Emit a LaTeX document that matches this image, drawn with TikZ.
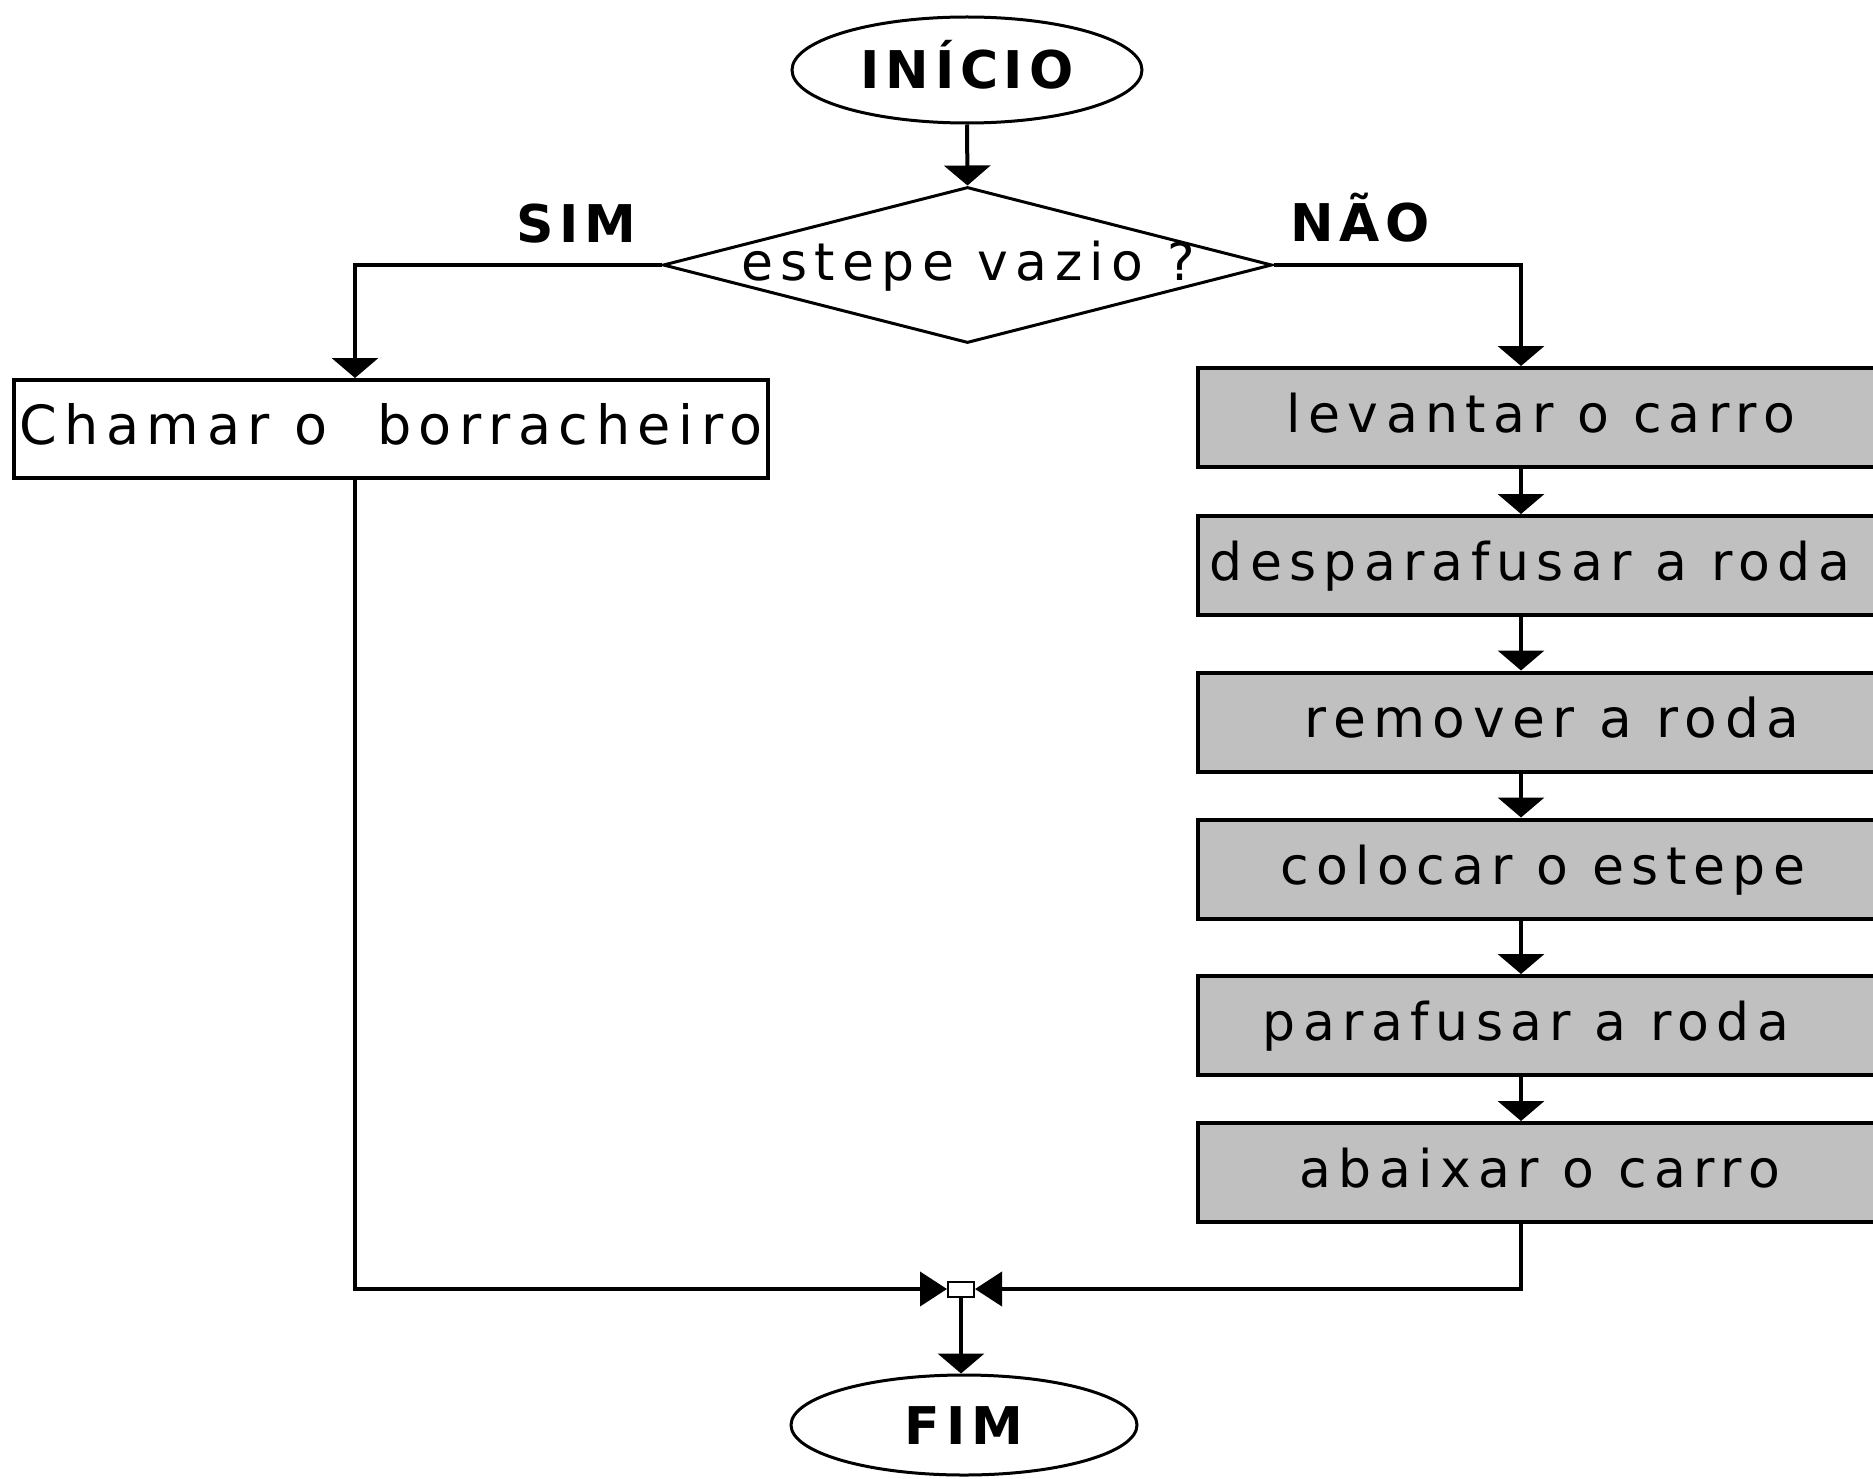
\documentclass[tikz,border=0pt]{standalone}
\usepackage{fontspec}
\setmainfont{DejaVu Sans}
\newfontfamily\boxfont[LetterSpace=14]{DejaVu Sans}
\newfontfamily\lblfont[LetterSpace=11]{DejaVu Sans}
\usetikzlibrary{shapes.geometric,arrows.meta}
\definecolor{boxgray}{HTML}{C0C0C0}
\begin{document}
\begin{tikzpicture}[x=1pt,y=-1pt,
  conn/.style={line width=4pt,-{Triangle[length=20pt,width=46pt]}},
  connj/.style={line width=4pt,-{Triangle[length=27pt,width=34pt]}},
  txt/.style={font=\fontsize{52}{60}\boxfont,text height=40pt,text depth=10pt,inner sep=0pt},
  proc/.style={draw,line width=4pt,fill=boxgray,minimum width=690pt,minimum height=99pt,inner sep=0pt},
  whitebox/.style={txt,draw,line width=4pt,fill=white,minimum width=754pt,minimum height=98pt,inner sep=0pt},
  term/.style={ellipse,draw,line width=3pt,inner sep=0pt,font=\fontsize{52}{60}\lblfont\bfseries,text height=38pt,text depth=0pt},
  lbl/.style={font=\fontsize{52}{60}\lblfont\bfseries,inner sep=0pt,text height=38pt,text depth=0pt},
]
\clip (0,0) rectangle (1873,1479);
\fill[white] (0,0) rectangle (1873,1479);

\node[term,minimum width=350pt,minimum height=106pt] (ini) at (967,70) {INÍCIO};
\node[diamond,draw,line width=3pt,minimum width=609pt,minimum height=156pt,inner sep=0pt] (d) at (967.5,265) {};
\node[txt] (dt) at (968,265) {estepe vazio ?};
\node[lbl] (sim) at (576,224) {SIM};
\node[lbl] (nao) at (1360,223) {NÃO};

\node[whitebox,font=\fontsize{54}{60}\boxfont] (ch) at (391,429) {Chamar o\ \ borracheiro};

\node[proc] (b1) at (1543,417.5) {};
\node[proc] (b2) at (1543,565.5) {};
\node[proc] (b3) at (1543,722) {};
\node[proc] (b4) at (1543,869) {};
\node[proc] (b5) at (1543,1025.5) {};
\node[proc] (b6) at (1543,1172.5) {};
\node[txt] (t1) at ([xshift=-2pt]b1.center) {levantar o carro};
\node[txt] (t2) at ([xshift=-13pt]b2.center) {desparafusar a roda};
\node[txt,font=\fontsize{53.5}{60}\boxfont] (t3) at ([xshift=9pt]b3.center) {remover a roda};
\node[txt] (t4) at (b4.center) {colocar o estepe};
\node[txt] (t5) at ([xshift=-17pt]b5.center) {parafusar a roda};
\node[txt] (t6) at ([xshift=-3pt]b6.center) {abaixar o carro};

\node[draw,line width=2pt,fill=white,minimum width=26pt,minimum height=15pt,inner sep=0pt] (j) at (961,1289) {};
\node[term,minimum width=346pt,minimum height=100pt] (fim) at (964,1425) {FIM};

\coordinate (lx) at (355,0);
\coordinate (rx) at (1521,0);

\draw[conn] (ini.south) -- (d.north);
\draw[conn] (d.west) -| (lx |- ch.north);
\draw[conn] (d.east) -| (rx |- b1.north);
\draw[conn] (rx |- b1.south) -- (rx |- b2.north);
\draw[conn] (rx |- b2.south) -- (rx |- b3.north);
\draw[conn] (rx |- b3.south) -- (rx |- b4.north);
\draw[conn] (rx |- b4.south) -- (rx |- b5.north);
\draw[conn] (rx |- b5.south) -- (rx |- b6.north);
\draw[connj] (lx |- ch.south) |- (j.west);
\draw[connj] (rx |- b6.south) |- (j.east);
\draw[conn] (j.south) -- (j.south |- fim.north);
\end{tikzpicture}
\end{document}
